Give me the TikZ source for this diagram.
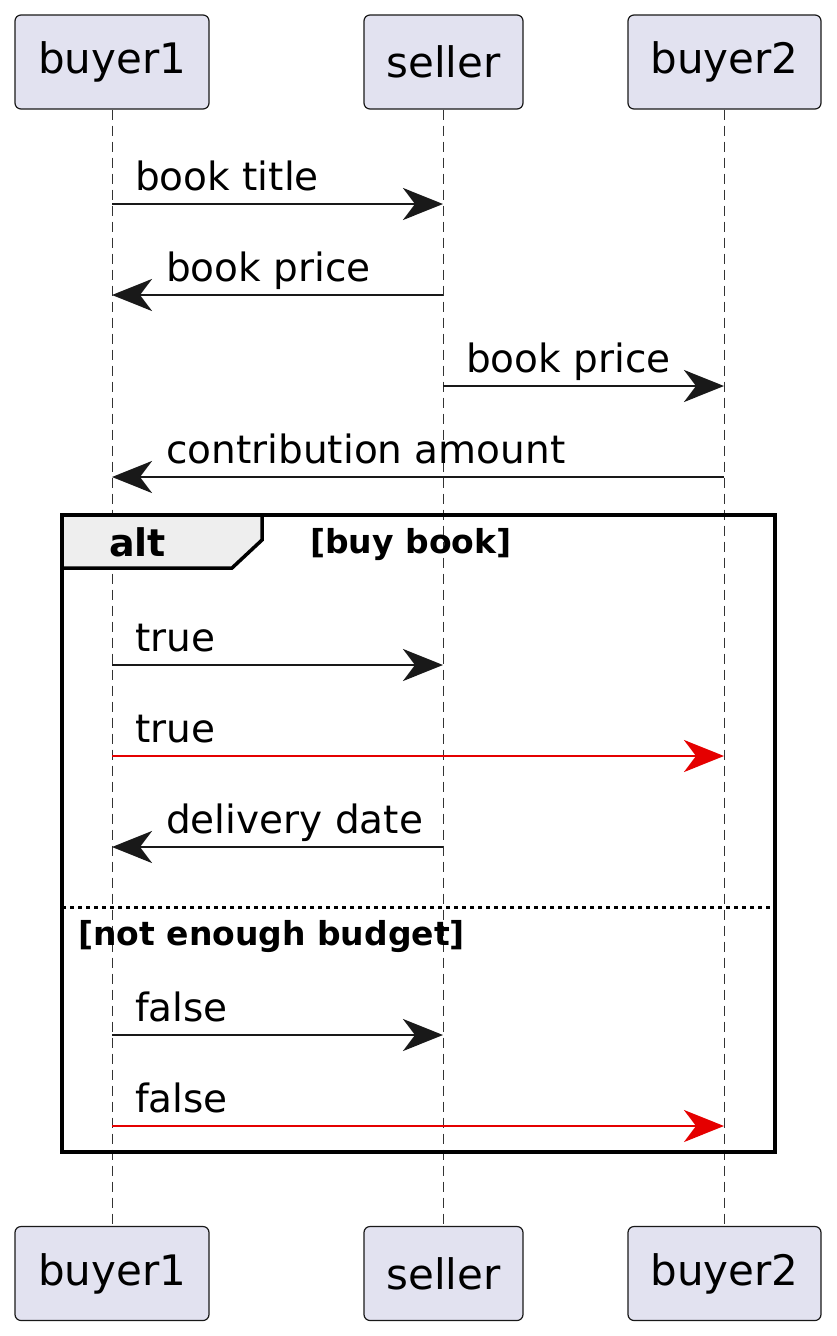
\documentclass[tikz,border=0pt]{standalone}
\usepackage{fontspec}
\setmainfont{DejaVu Sans}
\usetikzlibrary{arrows.meta}
\definecolor{boxfill}{RGB}{226,226,240}
\definecolor{tabfill}{RGB}{238,238,238}
\tikzset{
  part/.style={draw=black!90, fill=boxfill, rounded corners=6pt, line width=1.2pt, minimum width=#1, minimum height=94pt, font=\fontsize{42}{44}\selectfont, inner sep=0pt},
  life/.style={dashed, dash pattern=on 10pt off 6pt, line width=1pt, black!80},
  msg/.style={line width=2.8pt, black!90, -{Stealth[length=40pt,width=32pt,inset=12pt]}},
  redmsg/.style={msg, red!90!black, -{Stealth[length=40pt,width=32pt,inset=12pt]}},
  lbl/.style={font=\fontsize{39}{42}\selectfont, anchor=base west, inner sep=0pt},
  guard/.style={font=\bfseries\fontsize{33}{36}\selectfont, anchor=base west, inner sep=0pt}
}
\begin{document}
\begin{tikzpicture}[x=1pt,y=-1pt]
\useasboundingbox (0,0) rectangle (837,1336);
% participants
\node[part=194pt] (b1top) at (112,62) {buyer1};
\node[part=159pt] (stop) at (443.5,62) {seller};
\node[part=193pt] (b2top) at (724.5,62) {buyer2};
\node[part=194pt] (b1bot) at (112,1273.5) {buyer1};
\node[part=159pt] (sbot) at (443.5,1273.5) {seller};
\node[part=193pt] (b2bot) at (724.5,1273.5) {buyer2};
\draw[life] (b1top) -- (b1bot);
\draw[life] (stop) -- (sbot);
\draw[life] (b2top) -- (b2bot);
% alt frame
\draw[line width=4pt] (62,515) rectangle (775,1152);
\draw[line width=3.5pt, fill=tabfill] (62,515) -- (262,515) -- (262,540) -- (232,568) -- (62,568) -- cycle;
\node[font=\bfseries\fontsize{38}{40}\selectfont, anchor=base west, inner sep=0pt] at (109,556) {alt};
\node[guard] at (310,553) {[buy book]};
\draw[line width=3pt, dash pattern=on 4pt off 4pt] (62,907) -- (775,907);
\node[guard] at (78,945) {[not enough budget]};
% messages
\foreach \y/\from/\to/\txt/\st in {204/112/443/book title/msg, 295/443/112/book price/msg,
  386/443/724/book price/msg, 477/724/112/contribution amount/msg,
  665/112/443/true/msg, 756/112/724/true/redmsg, 847/443/112/delivery date/msg,
  1035/112/443/false/msg, 1126/112/724/false/redmsg}{
  \coordinate (p) at (\from,\y);
  \coordinate (q) at (\to,\y);
  \draw[\st] (p) -- (q);
  \pgfmathsetmacro{\lx}{min(\from,\to)+(\from<\to ? 23 : 54)}
  \node[lbl] at (\lx,\y-14) {\txt};
}
\end{tikzpicture}
\end{document}
